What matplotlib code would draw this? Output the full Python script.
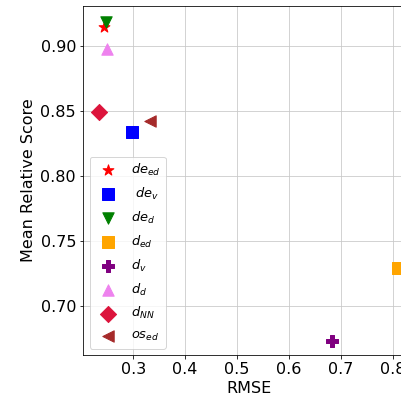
import matplotlib.pyplot as plt

labels = ['$de_{ed}$', ' $de_v$', '$de_d$', '$d_{ed}$', '$d_v$', '$d_d$', '$d_{NN}$', '$os_{ed}$']
rmse = [0.244, 0.298, 0.248, 0.810, 0.683, 0.250, 0.233, 0.333]
score = [0.915, 0.834, 0.919, 0.729, 0.673, 0.898, 0.849, 0.842]
markers = ['*', 's', 'v', 's', 'P', '^', 'D', '<']
colors = ['red', 'blue', 'green', 'orange', 'purple', 'violet', 'crimson', 'brown']

fig = plt.figure(figsize=(401 / 72, 400 / 72), dpi=72)
ax = fig.add_axes([0.207, 0.1125, 0.83, 0.8725])

for x, y, m, c, lab in zip(rmse, score, markers, colors, labels):
    ax.scatter(x, y, marker=m, color=c, s=130, label=lab, zorder=3)

ax.set_xlim(0.203, 0.845)
ax.set_ylim(0.662, 0.931)
ax.set_xticks([0.3, 0.4, 0.5, 0.6, 0.7, 0.8])
ax.set_yticks([0.70, 0.75, 0.80, 0.85, 0.90])
ax.set_yticklabels(['0.70', '0.75', '0.80', '0.85', '0.90'])
ax.tick_params(labelsize=16)
ax.set_xlabel('RMSE', fontsize=16)
ax.set_ylabel('Mean Relative Score', fontsize=16)
ax.grid(True, color='#c8c8c8')
ax.set_axisbelow(True)
ax.legend(loc='lower left', fontsize=13, labelspacing=0.6)

fig.savefig('out.png')
